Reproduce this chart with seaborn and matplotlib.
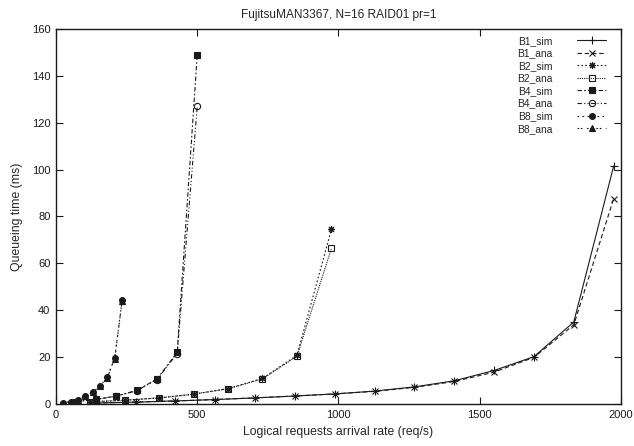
import numpy as np
import pandas as pd
import matplotlib
matplotlib.use("Agg")
import matplotlib.pyplot as plt
import seaborn as sns

# ---- data ----
b1_x = [141, 282, 423, 564, 705, 846, 987, 1128, 1269, 1410, 1551, 1692, 1833, 1974]
b1_sim = [0.4, 0.8, 1.3, 1.9, 2.6, 3.4, 4.3, 5.5, 7.3, 9.9, 14.3, 20.2, 35.0, 101.5]
b1_ana = [0.4, 0.8, 1.3, 1.9, 2.6, 3.4, 4.3, 5.4, 7.1, 9.6, 13.6, 19.9, 33.8, 87.6]

b2_x = [122, 244, 366, 488, 610, 731, 853, 975]
b2_sim = [0.9, 1.6, 2.6, 4.2, 6.6, 10.9, 20.8, 74.5]
b2_ana = [0.9, 1.6, 2.6, 4.2, 6.5, 10.7, 20.4, 66.4]

b4_x = [71, 143, 214, 286, 357, 429, 500]
b4_sim = [1.0, 2.0, 3.4, 5.8, 10.6, 22.0, 148.8]
b4_ana = [1.0, 2.0, 3.3, 5.7, 10.4, 21.5, 127.0]

b8_x = [26, 52, 78, 104, 130, 156, 182, 208, 234]
b8_sim = [0.6, 1.0, 1.6, 3.4, 5.1, 7.6, 11.5, 19.7, 44.2]
b8_ana = [0.6, 1.0, 1.6, 3.3, 5.0, 7.5, 11.3, 19.4, 44.0]

x_ticks = [0, 500, 1000, 1500, 2000]
y_ticks = [0, 20, 40, 60, 80, 100, 120, 140, 160]

title = "FujitsuMAN3367, N=16 RAID01 pr=1"
xlabel = "Logical requests arrival rate (req/s)"
ylabel = "Queueing time (ms)"

series = [
    ("B1_sim", b1_x, b1_sim),
    ("B1_ana", b1_x, b1_ana),
    ("B2_sim", b2_x, b2_sim),
    ("B2_ana", b2_x, b2_ana),
    ("B4_sim", b4_x, b4_sim),
    ("B4_ana", b4_x, b4_ana),
    ("B8_sim", b8_x, b8_sim),
    ("B8_ana", b8_x, b8_ana),
]

styles = {
    "B1_sim": dict(marker="+", ls="-", mfc="k", ms=5.5),
    "B1_ana": dict(marker="x", ls=(0, (4, 2.5)), mfc="k", ms=4),
    "B2_sim": dict(marker=(8, 2, 0), ls=(0, (1.5, 2)), mfc="k", ms=5),
    "B2_ana": dict(marker="s", ls=(0, (1, 1)), mfc="none", ms=4.5),
    "B4_sim": dict(marker="s", ls=(0, (4, 2, 1.5, 2)), mfc="k", ms=4.5),
    "B4_ana": dict(marker="o", ls=(0, (4, 2, 1, 2, 1, 2)), mfc="none", ms=4.5),
    "B8_sim": dict(marker="o", ls=(0, (1.5, 3)), mfc="k", ms=4.2),
    "B8_ana": dict(marker="^", ls=(0, (1.5, 1.5, 1.5, 4)), mfc="k", ms=4.5),
}

sns.set_theme(style="ticks")
plt.rcParams["font.family"] = ["Liberation Sans", "DejaVu Sans"]

fig, ax = plt.subplots(figsize=(6.34, 4.46), dpi=100)
fig.subplots_adjust(left=0.0883, right=0.9795, top=0.935, bottom=0.0942)

for name, xs, ys in series:
    df = pd.DataFrame({"x": xs, "y": ys})
    st = styles[name]
    sns.lineplot(data=df, x="x", y="y", ax=ax, color="k", linewidth=0.8,
                 marker=st["marker"], markersize=st["ms"],
                 markerfacecolor=st["mfc"], markeredgecolor="k",
                 markeredgewidth=0.8, label=name, errorbar=None)
    ax.get_lines()[-1].set_linestyle(st["ls"])

ax.set_xlim(0, 2000)
ax.set_ylim(0, 160)
ax.set_xticks(x_ticks)
ax.set_yticks(y_ticks)
ax.tick_params(direction="in", length=5, width=0.8, top=True, right=True,
               labelsize=8, colors="k", pad=4)
for sp in ax.spines.values():
    sp.set_linewidth(1.0)
    sp.set_color("k")
    sp.set_visible(True)

ax.set_title(title, fontsize=8.6, pad=8)
ax.set_xlabel(xlabel, fontsize=8.8, labelpad=5)
ax.set_ylabel(ylabel, fontsize=8.8, labelpad=6)

leg = ax.legend(loc="upper right", bbox_to_anchor=(0.981, 0.993), frameon=False,
                markerfirst=False, fontsize=7.4, handlelength=2.8, handletextpad=2.4,
                labelspacing=0.25, borderaxespad=0, numpoints=1)

fig.savefig("out.png", dpi=100)
